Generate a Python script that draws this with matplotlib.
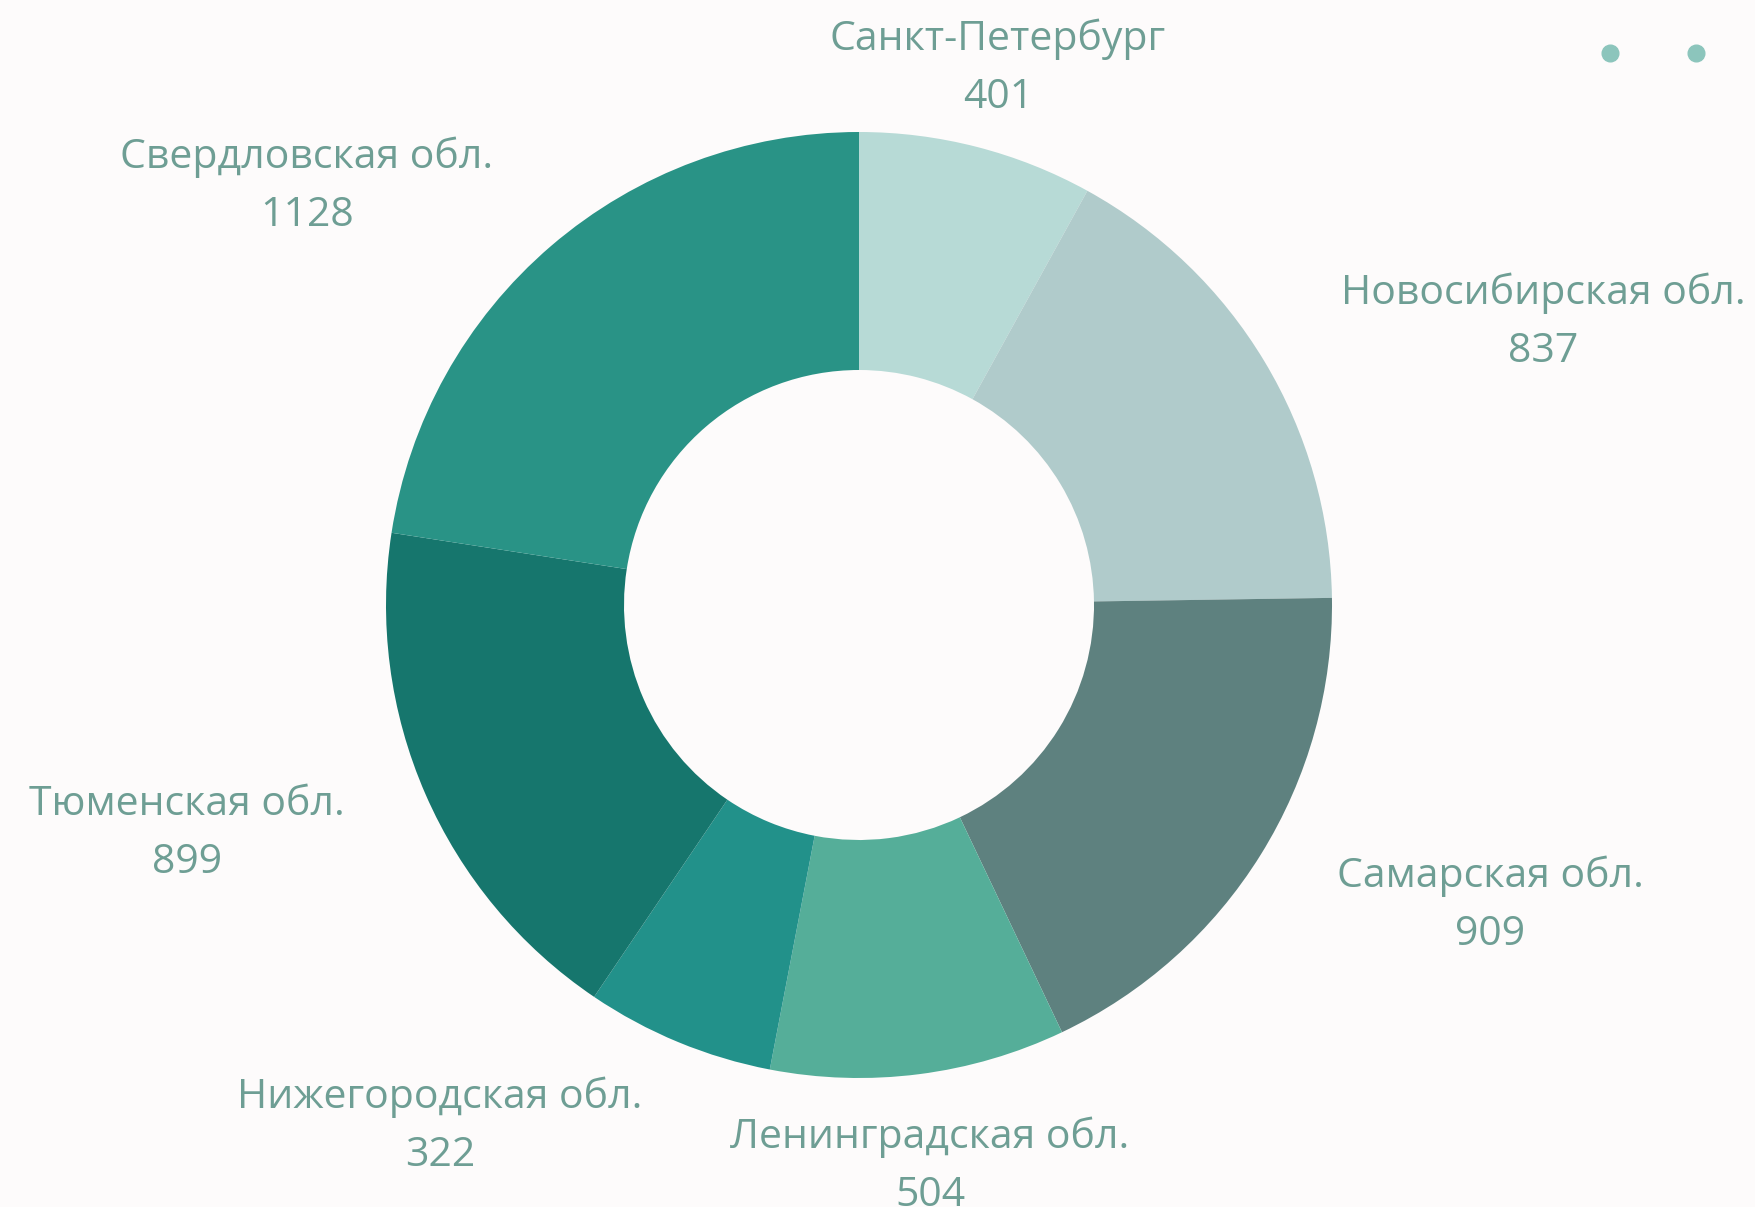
import matplotlib.pyplot as plt
import numpy as np

regions = ['Санкт-Петербург', 'Новосибирская обл.', 'Самарская обл.', 'Ленинградская обл.',
           'Нижегородская обл.', 'Тюменская обл.', 'Свердловская обл.']
values = [401, 837, 909, 504, 322, 899, 1128]
colors = ['#b7dad6', '#b0cbcb', '#5e817f', '#55ae99', '#22918a', '#16766d', '#299386']

# where the labels sit (pixels, from top-left)
label_pos = [(998, 68), (1543, 322), (1490, 905), (930, 1166), (440, 1126), (187, 834), (307, 186)]

W, H = 1756, 1207
bg = '#fdfbfb'
fig = plt.figure(figsize=(W / 100, H / 100), dpi=100, facecolor=bg)
ax = fig.add_axes([0, 0, 1, 1])
ax.set_facecolor(bg)

cx, cy = 859, H - 605
R = 473
ax.pie(values, colors=colors, startangle=90, counterclock=False, center=(cx, cy),
       radius=R, wedgeprops=dict(width=R - 235, linewidth=0), frame=True)
ax.set_xlim(0, W)
ax.set_ylim(0, H)
ax.set_aspect('equal')
ax.axis('off')

for name, v, (x, y) in zip(regions, values, label_pos):
    ax.text(x, H - y, name + '\n' + str(v), ha='center', va='center', fontsize=29.5,
            color='#6e9e94', family='Open Sans', linespacing=1.58)

# legend dots top right
ax.plot([1610, 1696], [H - 53, H - 53], 'o', ms=12, color='#8cc5bc', ls='none')

fig.savefig('out.png', dpi=100, facecolor=bg)
